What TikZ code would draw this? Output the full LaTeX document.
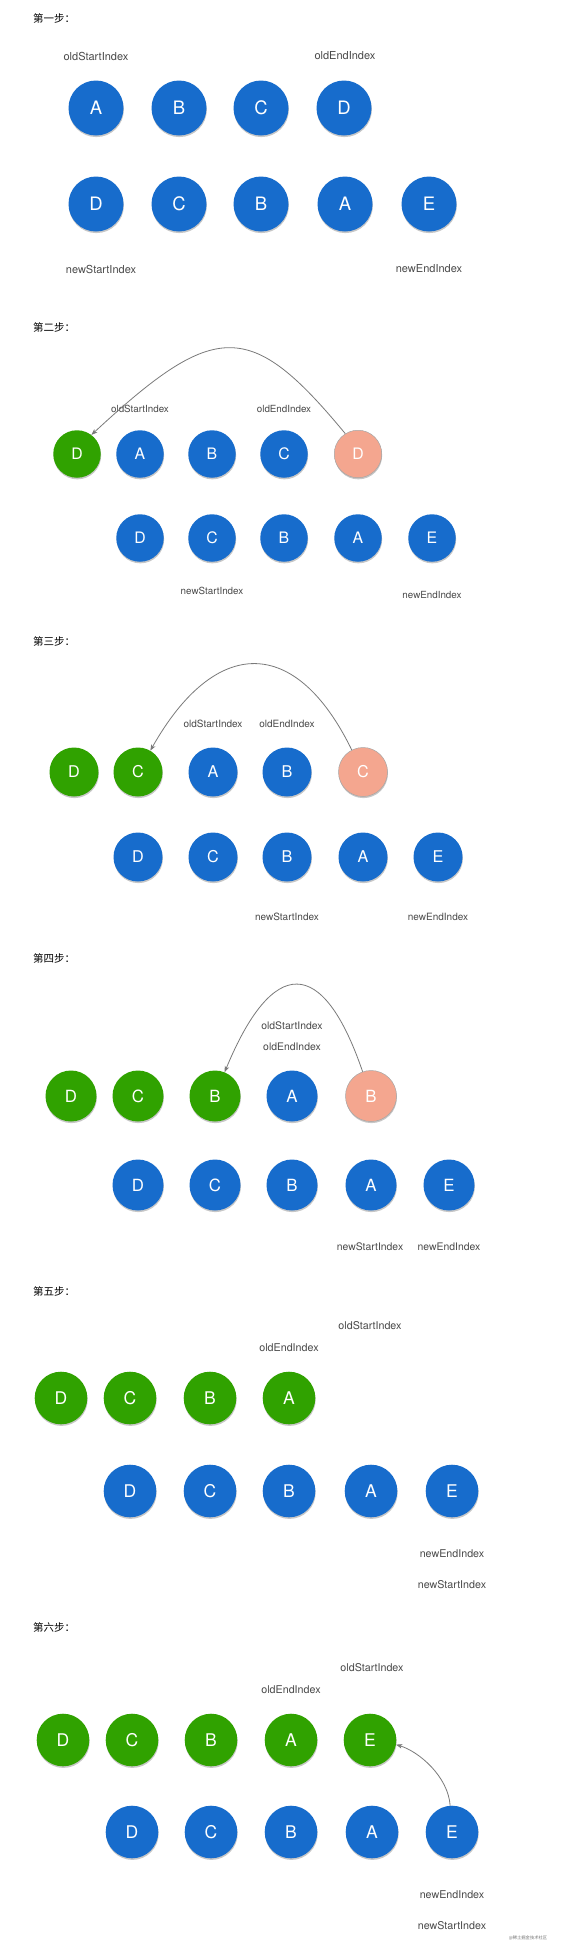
\documentclass[tikz,border=0pt]{standalone}
\usepackage{fontspec}
\newfontfamily\heros{TeX Gyre Heros}
\newfontfamily\cjk{Noto Sans CJK SC}
\usetikzlibrary{shadows,arrows.meta}
\definecolor{cblue}{HTML}{176CCC}
\definecolor{cgreen}{HTML}{30A200}
\definecolor{cpink}{HTML}{F4A68F}
\definecolor{labgray}{HTML}{4A4A4A}
\definecolor{arrgray}{HTML}{7A7A7A}
\tikzset{
  bub/.style={circle, inner sep=0pt, text=white,
    drop shadow={shadow xshift=0.4pt, shadow yshift=-1.6pt, opacity=0.22, fill=black}},
  bl/.style={bub, fill=cblue},
  gr/.style={bub, fill=cgreen},
  pk/.style={bub, fill=cpink, draw=black!35, line width=0.5pt},
  lbl/.style={font=\heros\fontsize{#1}{#1}\selectfont, text=labgray},
  ttl/.style={anchor=west, font=\cjk\fontsize{10.5}{12}\selectfont, text=black, inner sep=0pt},
  mv/.style={draw=arrgray, line width=0.8pt, -{Stealth[length=6pt,width=4.5pt,inset=1.5pt]}},
}
\begin{document}
\begin{tikzpicture}[x=1pt,y=-1pt]
\path[use as bounding box, fill=white] (0,0) rectangle (561,1955);

% ---------- step 1 ----------
\node[ttl] (t1) at (33,18) {第一步：};
\begin{scope}[bub/.append style={minimum size=55pt, font=\heros\fontsize{18.5}{18.5}\selectfont}]
\node[bl] (a1o1) at (96,108) {A};
\node[bl] (a1o2) at (179,108) {B};
\node[bl] (a1o3) at (261,108) {C};
\node[bl] (a1o4) at (344,108) {D};
\node[bl] (a1n1) at (96,204) {D};
\node[bl] (a1n2) at (179,204) {C};
\node[bl] (a1n3) at (261,204) {B};
\node[bl] (a1n4) at (345,204) {A};
\node[bl] (a1n5) at (429,204) {E};
\end{scope}
\node[lbl=11] (l1os) at (96,56) {oldStartIndex};
\node[lbl=11] (l1oe) at (345,56) {oldEndIndex};
\node[lbl=11] (l1ns) at (101,269) {newStartIndex};
\node[lbl=11] (l1ne) at (429,269) {newEndIndex};

% ---------- step 2 ----------
\node[ttl] (t2) at (33,327) {第二步：};
\begin{scope}[bub/.append style={minimum size=47.5pt, font=\heros\fontsize{15.8}{15.8}\selectfont}]
\node[gr] (a2o0) at (77,454) {D};
\node[bl] (a2o1) at (140,454) {A};
\node[bl] (a2o2) at (212,454) {B};
\node[bl] (a2o3) at (284,454) {C};
\node[pk] (a2o4) at (358,454) {D};
\node[bl] (a2n1) at (140,538) {D};
\node[bl] (a2n2) at (212,538) {C};
\node[bl] (a2n3) at (284,538) {B};
\node[bl] (a2n4) at (358,538) {A};
\node[bl] (a2n5) at (432,538) {E};
\end{scope}
\node[lbl=9.8] (l2os) at (140,409) {oldStartIndex};
\node[lbl=9.8] (l2oe) at (284,409) {oldEndIndex};
\node[lbl=9.8] (l2ns) at (212,591) {newStartIndex};
\node[lbl=9.8] (l2ne) at (432,595) {newEndIndex};
\draw[mv] (a2o4.122) .. controls +(-95,-115) and +(124,-115) .. (a2o0.53);

% ---------- step 3 ----------
\node[ttl] (t3) at (33,641) {第三步：};
\begin{scope}[bub/.append style={minimum size=49pt, font=\heros\fontsize{16.2}{16.2}\selectfont}]
\node[gr] (a3o0) at (74,772) {D};
\node[gr] (a3o5) at (138,772) {C};
\node[bl] (a3o1) at (213,772) {A};
\node[bl] (a3o2) at (287,772) {B};
\node[pk] (a3o3) at (363,772) {C};
\node[bl] (a3n1) at (138,857) {D};
\node[bl] (a3n2) at (213,857) {C};
\node[bl] (a3n3) at (287,857) {B};
\node[bl] (a3n4) at (363,857) {A};
\node[bl] (a3n5) at (438,857) {E};
\end{scope}
\node[lbl=10] (l3os) at (213,724) {oldStartIndex};
\node[lbl=10] (l3oe) at (287,724) {oldEndIndex};
\node[lbl=10] (l3ns) at (287,917) {newStartIndex};
\node[lbl=10] (l3ne) at (438,917) {newEndIndex};
\draw[mv] (a3o3.117) .. controls +(-56,-115) and +(65,-115) .. (a3o5.60);

% ---------- step 4 ----------
\node[ttl] (t4) at (33,958) {第四步：};
\begin{scope}[bub/.append style={minimum size=51pt, font=\heros\fontsize{16.8}{16.8}\selectfont}]
\node[gr] (a4o0) at (71,1096) {D};
\node[gr] (a4o5) at (138,1096) {C};
\node[gr] (a4o6) at (215,1096) {B};
\node[bl] (a4o1) at (292,1096) {A};
\node[pk] (a4o2) at (371,1096) {B};
\node[bl] (a4n1) at (138,1185) {D};
\node[bl] (a4n2) at (215,1185) {C};
\node[bl] (a4n3) at (292,1185) {B};
\node[bl] (a4n4) at (371,1185) {A};
\node[bl] (a4n5) at (449,1185) {E};
\end{scope}
\node[lbl=10.4] (l4os) at (292,1026) {oldStartIndex};
\node[lbl=10.4] (l4oe) at (292,1047) {oldEndIndex};
\node[lbl=10.4] (l4ns) at (370,1247) {newStartIndex};
\node[lbl=10.4] (l4ne) at (449,1247) {newEndIndex};
\draw[mv] (a4o2.109) .. controls +(-40,-117) and +(48,-116) .. (a4o6.68);

% ---------- step 5 ----------
\node[ttl] (t5) at (33,1291) {第五步：};
\begin{scope}[bub/.append style={minimum size=52.6pt, font=\heros\fontsize{17.5}{17.5}\selectfont}]
\node[gr] (a5o0) at (61,1398) {D};
\node[gr] (a5o5) at (130,1398) {C};
\node[gr] (a5o6) at (210,1398) {B};
\node[gr] (a5o7) at (289,1398) {A};
\node[bl] (a5n1) at (130,1491) {D};
\node[bl] (a5n2) at (210,1491) {C};
\node[bl] (a5n3) at (289,1491) {B};
\node[bl] (a5n4) at (371,1491) {A};
\node[bl] (a5n5) at (452,1491) {E};
\end{scope}
\node[lbl=10.7] (l5os) at (370,1326) {oldStartIndex};
\node[lbl=10.7] (l5oe) at (289,1348) {oldEndIndex};
\node[lbl=10.7] (l5ne) at (452,1554) {newEndIndex};
\node[lbl=10.7] (l5ns) at (452,1585) {newStartIndex};

% ---------- step 6 ----------
\node[ttl] (t6) at (33,1627) {第六步：};
\begin{scope}[bub/.append style={minimum size=52.6pt, font=\heros\fontsize{17.5}{17.5}\selectfont}]
\node[gr] (a6o0) at (63,1740) {D};
\node[gr] (a6o5) at (132,1740) {C};
\node[gr] (a6o6) at (211,1740) {B};
\node[gr] (a6o7) at (291,1740) {A};
\node[gr] (a6o8) at (370,1740) {E};
\node[bl] (a6n1) at (132,1832) {D};
\node[bl] (a6n2) at (211,1832) {C};
\node[bl] (a6n3) at (291,1832) {B};
\node[bl] (a6n4) at (372,1832) {A};
\node[bl] (a6n5) at (452,1832) {E};
\end{scope}
\node[lbl=10.7] (l6os) at (372,1668) {oldStartIndex};
\node[lbl=10.7] (l6oe) at (291,1690) {oldEndIndex};
\node[lbl=10.7] (l6ne) at (452,1895) {newEndIndex};
\node[lbl=10.7] (l6ns) at (452,1926) {newStartIndex};
\draw[mv] (a6n5.94) .. controls +(-2,-29) and +(23,7) .. (a6o8.350);

\node[font=\cjk\fontsize{4.3}{5}\selectfont, text=black!55, inner sep=0pt] (wm) at (528,1938) {@稀土掘金技术社区};
\end{tikzpicture}
\end{document}
